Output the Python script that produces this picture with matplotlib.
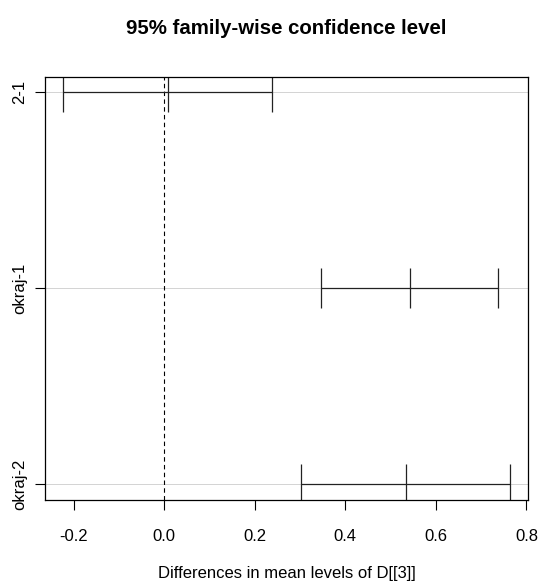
import numpy as np
import matplotlib
matplotlib.use("Agg")
import matplotlib.pyplot as plt

plt.rcParams['font.family'] = ['Liberation Sans', 'DejaVu Sans']

# TukeyHSD comparisons (top to bottom)
comparisons = ["2-1", "okraj-1", "okraj-2"]
diff = [0.008, 0.542, 0.535]
lwr = [-0.2234, 0.347, 0.303]
upr = [0.239, 0.7365, 0.7645]
xticks = [-0.2, 0.0, 0.2, 0.4, 0.6, 0.8]

yvals = np.arange(len(comparisons), 0, -1)
diff = np.array(diff)
lwr = np.array(lwr)
upr = np.array(upr)

fig = plt.figure(figsize=(5.39, 5.83), dpi=100)
ax = fig.add_axes([0.084, 0.1424, 0.896, 0.726])

# light grey reference lines at each comparison
for y in yvals:
    ax.axhline(y, color="lightgray", lw=0.7, zorder=0)
ax.axvline(0, color="black", lw=0.8, ls=(0, (4, 3)), zorder=1)

ax.errorbar(diff, yvals, xerr=[diff - lwr, upr - diff], fmt="none",
            ecolor="#222222", elinewidth=0.9, capsize=14.2, capthick=0.9, zorder=2)
ax.plot(diff, yvals, ls="none", marker="|", ms=28.4, mew=0.9, color="#222222", zorder=2)

lo = min(lwr.min(), 0)
hi = upr.max()
pad = 0.04 * (hi - lo)
ax.set_xlim(lo - pad, hi + pad)
ax.set_ylim(1 - 0.08, len(comparisons) + 0.08)

ax.set_xticks(xticks)
ax.set_xticklabels([f"{t:.1f}" for t in xticks])
ax.set_yticks(yvals)
ax.set_yticklabels(comparisons, rotation=90, va="center")
ax.tick_params(length=7.2, width=0.8, labelsize=12)
ax.tick_params(axis="x", pad=13.5)
ax.tick_params(axis="y", pad=6)

for s in ax.spines.values():
    s.set_linewidth(0.9)

ax.set_title("95% family-wise confidence level", fontsize=14.7, fontweight="bold", pad=31)
ax.set_xlabel("Differences in mean levels of D[[3]]", fontsize=12, labelpad=16)

fig.savefig("out.png", dpi=100)
